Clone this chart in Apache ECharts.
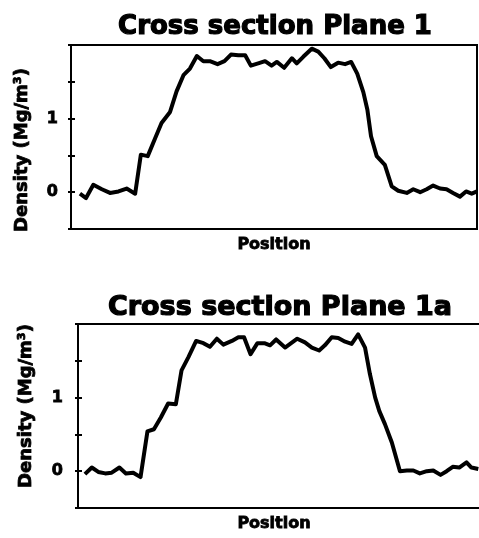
<!DOCTYPE html>
<html>
<head>
<meta charset="utf-8">
<style>
  html, body { margin: 0; padding: 0; background: #ffffff; }
  #chart { width: 479px; height: 538px; }
</style>
<script src="https://cdn.jsdelivr.net/npm/echarts@6/dist/echarts.min.js"></script>
</head>
<body>
<div id="chart"></div>
<script>
// Density profiles across two planes (position in % of the scanned width)
const planeOneTitle = 'Cross section Plane 1';
const planeOneATitle = 'Cross section Plane 1a';

const planeOnePos = [2.2, 3.7, 5.5, 7.6, 9.6, 11.7, 13.7, 15.8, 17.2, 18.9,
  20.7, 22.3, 24.4, 26.0, 27.7, 29.3, 31.0, 32.6, 34.2, 36.1,
  37.8, 39.4, 41.2, 42.9, 44.3, 46.1, 47.8, 49.4, 50.7, 52.5,
  54.4, 55.6, 57.2, 59.3, 60.9, 62.4, 64.0, 65.8, 67.5, 69.0,
  70.5, 72.0, 73.0, 73.9, 75.3, 77.3, 79.0, 80.6, 82.7, 84.3,
  86.0, 87.6, 89.2, 90.9, 92.5, 94.1, 95.8, 97.3, 98.7, 100.0];
const planeOneDensity = [-0.02, -0.08, 0.10, 0.04, -0.01, 0.01, 0.05, -0.02, 0.51, 0.49,
  0.73, 0.94, 1.09, 1.37, 1.59, 1.68, 1.85, 1.78, 1.78, 1.74,
  1.78, 1.87, 1.86, 1.86, 1.72, 1.75, 1.78, 1.72, 1.77, 1.69,
  1.82, 1.75, 1.84, 1.95, 1.91, 1.82, 1.70, 1.76, 1.74, 1.77,
  1.61, 1.36, 1.12, 0.76, 0.49, 0.37, 0.08, 0.02, -0.01, 0.04,
  0.00, 0.04, 0.09, 0.05, 0.04, -0.01, -0.06, 0.01, -0.02, 0.01];

const planeOneAPos = [1.7, 3.4, 5.0, 6.7, 8.3, 10.2, 11.8, 13.6, 15.4, 17.1,
  18.7, 20.4, 22.2, 24.1, 25.5, 27.2, 29.1, 30.9, 32.5, 34.2,
  35.8, 37.9, 39.5, 40.9, 42.5, 44.2, 45.9, 47.3, 48.8, 51.0,
  54.0, 55.9, 57.6, 59.4, 60.8, 62.5, 64.1, 65.8, 67.4, 69.0,
  70.7, 71.9, 73.2, 74.2, 75.6, 77.3, 79.3, 81.0, 82.6, 84.2,
  85.9, 87.5, 89.3, 90.8, 92.3, 93.9, 95.7, 96.9, 98.6];
const planeOneADensity = [-0.04, 0.05, -0.01, -0.03, -0.02, 0.05, -0.03, -0.02, -0.08, 0.54,
  0.57, 0.73, 0.92, 0.91, 1.37, 1.55, 1.77, 1.74, 1.69, 1.80,
  1.72, 1.77, 1.82, 1.82, 1.59, 1.74, 1.74, 1.71, 1.79, 1.68,
  1.80, 1.75, 1.68, 1.64, 1.71, 1.82, 1.81, 1.76, 1.73, 1.86,
  1.68, 1.32, 1.00, 0.82, 0.64, 0.39, 0.00, 0.01, 0.01, -0.03,
  0.00, 0.01, -0.05, 0.00, 0.06, 0.05, 0.12, 0.05, 0.03];

const labelledTicks = [0, 1];
const yLabel = 'Density (Mg/m\u00B3)';
const xLabel = 'Position';

const FONT = '"DejaVu Sans", sans-serif';
// heavy lettering: bold face plus a thin stroke in the same colour
const heavy = (size, stroke) => ({
  fontFamily: FONT, fontWeight: 'bold', fontSize: size, color: '#000',
  textBorderColor: '#000', textBorderWidth: stroke
});
const pairs = (xs, ys) => xs.map((x, i) => [x, ys[i]]);

function xAxisFor(gridIndex, namePadding) {
  return {
    gridIndex, type: 'value', min: 0, max: 100,
    axisLine: { show: false }, axisTick: { show: false },
    axisLabel: { show: false }, splitLine: { show: false },
    name: xLabel, nameLocation: 'middle', nameGap: 8,
    nameTextStyle: Object.assign(heavy(16, 0.8), { verticalAlign: 'top', padding: namePadding })
  };
}

function yAxisFor(gridIndex, nameGap, labelMargin, namePadding) {
  return {
    gridIndex, position: 'left', type: 'value', min: -0.5, max: 2, interval: 0.5,
    axisLine: { show: false },
    axisTick: { show: true, length: 3, lineStyle: { color: '#000', width: 2 } },
    axisLabel: Object.assign(heavy(16, 0.8), {
      margin: labelMargin,
      formatter: v => (labelledTicks.includes(v) ? String(v) : '')
    }),
    splitLine: { show: false },
    name: yLabel, nameLocation: 'middle', nameGap,
    nameTextStyle: Object.assign(heavy(18, 0.8), { padding: namePadding })
  };
}

// mirror ticks on the inside so they cross the axis line
function innerTicks(gridIndex) {
  return {
    gridIndex, position: 'left', offset: 0, type: 'value', min: -0.5, max: 2, interval: 0.5,
    axisLine: { show: false },
    axisTick: { show: true, inside: true, length: 4, lineStyle: { color: '#000', width: 2 } },
    axisLabel: { show: false }, splitLine: { show: false }
  };
}

const chart = echarts.init(document.getElementById('chart'));
chart.setOption({
  backgroundColor: '#ffffff',
  animation: false,
  title: [
    { text: planeOneTitle, left: 270, top: 9, textAlign: 'center', textStyle: heavy(26, 1.2) },
    { text: planeOneATitle, left: 275, top: 289, textAlign: 'center', textStyle: heavy(27, 1.2) }
  ],
  grid: [
    { left: 71, right: 2, top: 45, bottom: 309, show: true, outerBoundsMode: 'none',
      borderColor: '#000', borderWidth: 2, backgroundColor: 'transparent' },
    { left: 78, right: -5, top: 324, bottom: 30, show: true, outerBoundsMode: 'none',
      borderColor: '#000', borderWidth: 2, backgroundColor: 'transparent' }
  ],
  xAxis: [xAxisFor(0, [0, 0, 0, 0]), xAxisFor(1, [0, 14, 0, 0])],
  yAxis: [yAxisFor(0, 40, 13, [0, 26, 0, 0]), yAxisFor(1, 43, 15, [0, 0, 0, 20]),
    innerTicks(0), innerTicks(1)],
  series: [
    { type: 'line', xAxisIndex: 0, yAxisIndex: 0, data: pairs(planeOnePos, planeOneDensity),
      showSymbol: false, lineStyle: { color: '#000', width: 4, join: 'round' } },
    { type: 'line', xAxisIndex: 1, yAxisIndex: 1, data: pairs(planeOneAPos, planeOneADensity),
      showSymbol: false, lineStyle: { color: '#000', width: 4, join: 'round' } }
  ]
});
</script>
</body>
</html>
